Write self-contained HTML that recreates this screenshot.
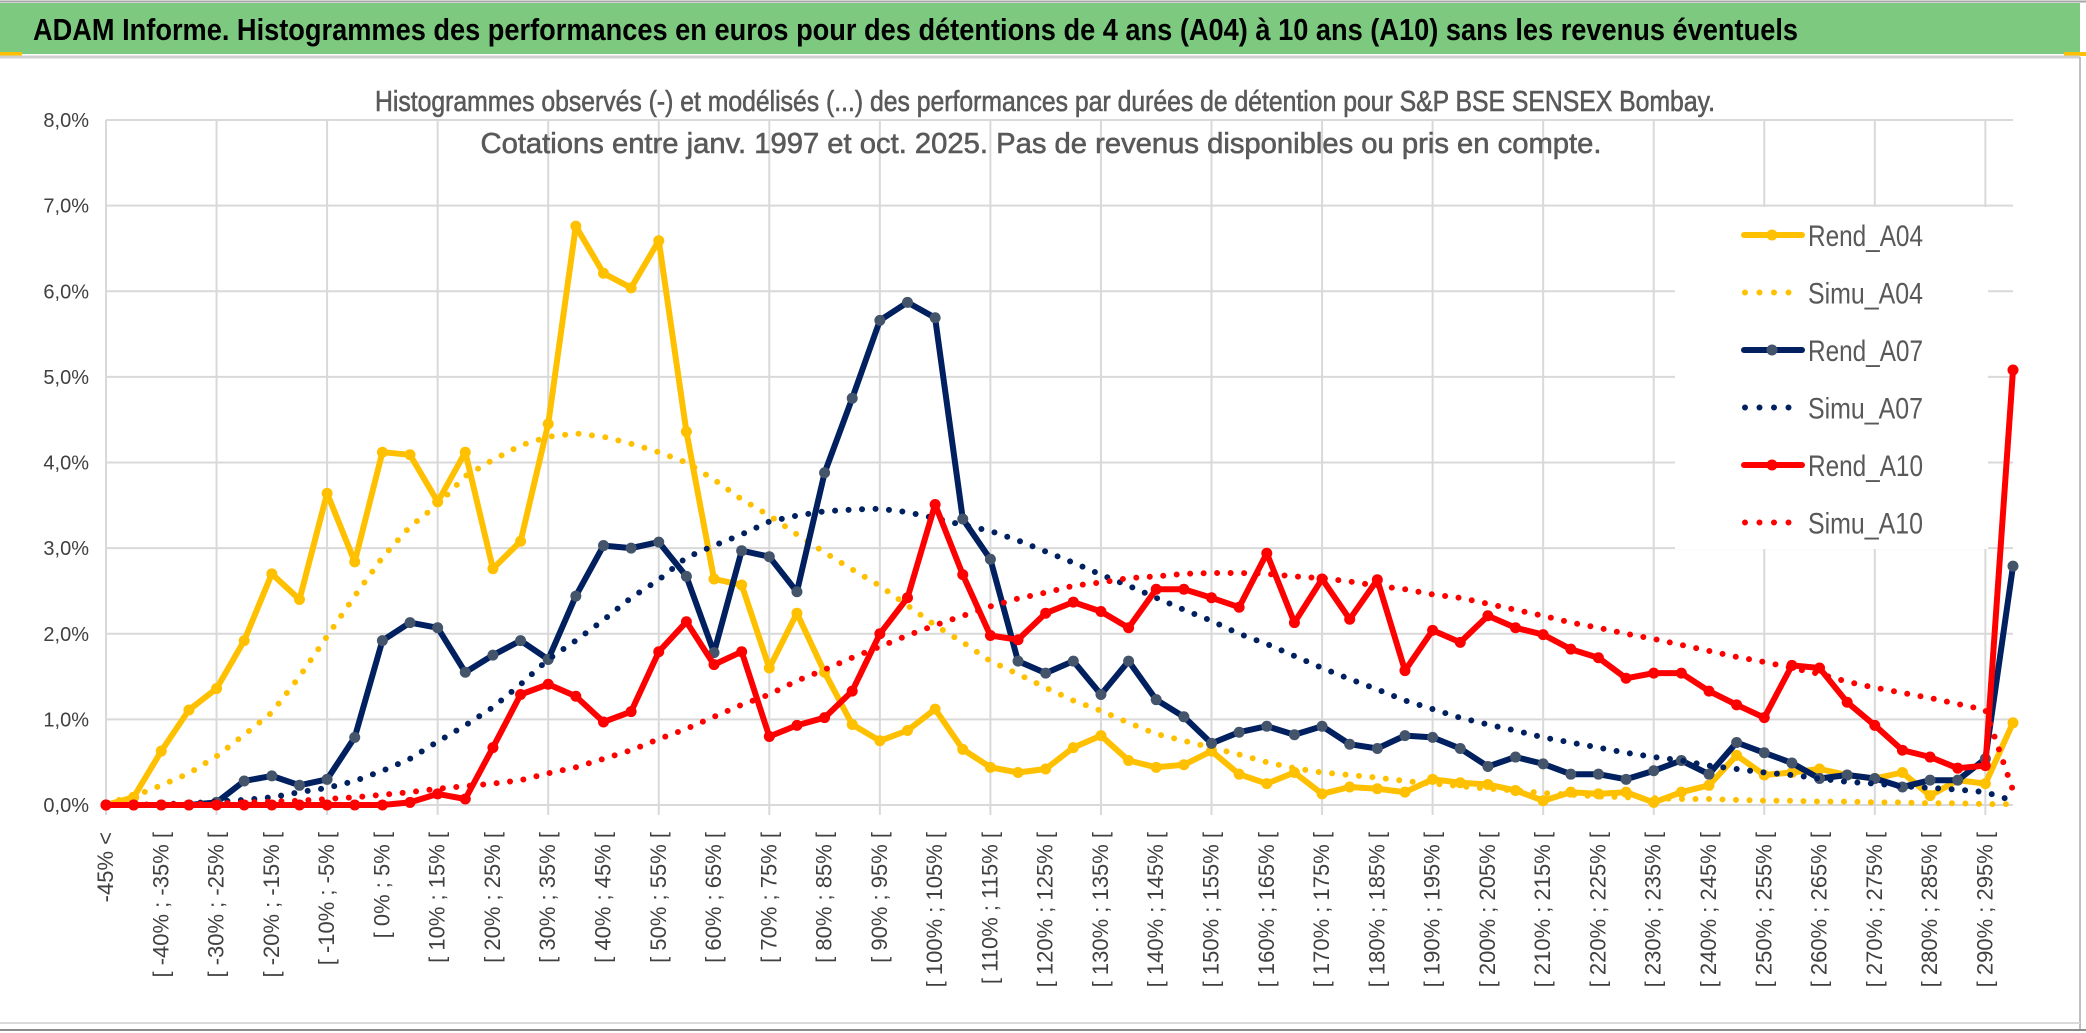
<!DOCTYPE html>
<html><head><meta charset="utf-8">
<style>
html,body{margin:0;padding:0;background:#fff;}
svg{display:block;font-family:"Liberation Sans Narrow","Liberation Sans",sans-serif;}
</style></head>
<body>
<svg id="chart" width="2086" height="1033" viewBox="0 0 2086 1033" xmlns="http://www.w3.org/2000/svg">
  <rect x="0" y="0" width="2086" height="1033" fill="#ffffff"/>
  <line x1="0" y1="1.5" x2="2086" y2="1.5" stroke="#a6a6a6" stroke-width="2"/>
  <rect x="0" y="3" width="2080" height="51" fill="#7dc97f"/>
  <rect x="0" y="52" width="22" height="4" fill="#ffc000"/>
  <rect x="2064" y="52" width="22" height="4" fill="#ffc000"/>
  <line x1="0" y1="57" x2="2080" y2="57" stroke="#d0d0d0" stroke-width="3"/>
  <text x="33" y="40" font-size="31" font-weight="bold" fill="#000" textLength="1765" lengthAdjust="spacingAndGlyphs">ADAM Informe. Histogrammes des performances en euros pour des détentions de 4 ans (A04) à 10 ans (A10) sans les revenus éventuels</text>
  <line x1="2080" y1="57" x2="2080" y2="1030" stroke="#bfbfbf" stroke-width="2"/>
  <line x1="0" y1="1023" x2="2080" y2="1023" stroke="#d9d9d9" stroke-width="2"/>
  <line x1="0" y1="1030" x2="2086" y2="1030" stroke="#8c8c8c" stroke-width="2"/>
  <g id="grid"></g>
  <g id="axes"></g>
  <g id="series"></g>
  <rect x="1675" y="207" width="313" height="342" fill="#ffffff"/>
  <g id="legend"></g>
  <text x="1045" y="111" font-size="29" fill="#595959" stroke="#595959" stroke-width="0.6" text-anchor="middle" textLength="1340" lengthAdjust="spacingAndGlyphs">Histogrammes observés (-) et modélisés (...) des performances par durées de détention pour S&amp;P BSE SENSEX Bombay.</text>
  <text x="1041" y="153" font-size="29" fill="#595959" stroke="#595959" stroke-width="0.6" text-anchor="middle" textLength="1121" lengthAdjust="spacingAndGlyphs">Cotations entre janv. 1997 et oct. 2025. Pas de revenus disponibles ou pris en compte.</text>
</svg>
<script>
var binStarts = [-45,-40,-35,-30,-25,-20,-15,-10,-5,0,5,10,15,20,25,30,35,40,45,50,55,60,65,70,75,80,85,90,95,100,105,110,115,120,125,130,135,140,145,150,155,160,165,170,175,180,185,190,195,200,205,210,215,220,225,230,235,240,245,250,255,260,265,270,275,280,285,290,295];
var firstCategory = "-45% <";
var yTicks = [0,1,2,3,4,5,6,7,8];
var yTickLabels = ["0,0%","1,0%","2,0%","3,0%","4,0%","5,0%","6,0%","7,0%","8,0%"];
var rendA04 = [0,0.09,0.63,1.11,1.36,1.92,2.70,2.40,3.64,2.84,4.12,4.09,3.54,4.12,2.76,3.08,4.45,6.76,6.21,6.04,6.59,4.36,2.64,2.57,1.60,2.24,1.55,0.94,0.75,0.87,1.12,0.65,0.44,0.38,0.42,0.67,0.81,0.52,0.44,0.47,0.63,0.36,0.25,0.38,0.13,0.21,0.19,0.15,0.30,0.26,0.24,0.17,0.05,0.15,0.13,0.15,0.03,0.15,0.23,0.58,0.35,0.38,0.42,0.35,0.31,0.38,0.11,0.29,0.25,0.96];
var simuA04 = [0.02,0.10,0.23,0.37,0.57,0.82,1.08,1.50,1.97,2.44,2.89,3.25,3.51,3.84,4.03,4.20,4.30,4.34,4.30,4.22,4.12,4.00,3.80,3.57,3.38,3.16,2.95,2.75,2.56,2.33,2.10,1.90,1.68,1.53,1.37,1.22,1.10,0.96,0.83,0.75,0.67,0.59,0.50,0.43,0.38,0.35,0.32,0.28,0.25,0.22,0.19,0.17,0.14,0.12,0.10,0.09,0.08,0.07,0.07,0.06,0.05,0.05,0.04,0.04,0.03,0.03,0.02,0.02,0.01,0.01];
var rendA07 = [0,0,0,0,0.03,0.28,0.34,0.23,0.30,0.79,1.92,2.13,2.07,1.55,1.75,1.92,1.70,2.44,3.03,3.00,3.07,2.67,1.78,2.97,2.90,2.49,3.88,4.75,5.66,5.87,5.69,3.34,2.87,1.68,1.54,1.68,1.29,1.68,1.23,1.03,0.72,0.85,0.92,0.82,0.92,0.71,0.66,0.81,0.79,0.66,0.45,0.56,0.48,0.36,0.36,0.30,0.40,0.52,0.36,0.73,0.61,0.49,0.31,0.35,0.31,0.21,0.29,0.29,0.54,2.79];
var simuA07 = [0,0,0.01,0.02,0.04,0.06,0.09,0.15,0.20,0.28,0.40,0.54,0.74,0.93,1.14,1.41,1.70,1.92,2.16,2.42,2.63,2.89,3.03,3.16,3.31,3.38,3.43,3.45,3.46,3.42,3.35,3.27,3.20,3.09,2.96,2.83,2.69,2.56,2.42,2.28,2.15,2.00,1.88,1.74,1.60,1.47,1.35,1.22,1.12,1.02,0.94,0.87,0.79,0.73,0.67,0.61,0.56,0.52,0.46,0.42,0.38,0.35,0.31,0.27,0.25,0.22,0.20,0.18,0.15,0.05];
var rendA10 = [0,0,0,0,0,0,0,0,0,0,0,0.03,0.13,0.07,0.67,1.29,1.41,1.27,0.97,1.09,1.79,2.14,1.64,1.79,0.80,0.93,1.02,1.33,2.00,2.42,3.51,2.69,1.98,1.93,2.24,2.37,2.26,2.07,2.52,2.52,2.42,2.31,2.94,2.13,2.64,2.17,2.63,1.57,2.04,1.90,2.21,2.07,1.99,1.82,1.72,1.48,1.54,1.54,1.33,1.17,1.02,1.63,1.60,1.20,0.93,0.64,0.56,0.43,0.46,5.08];
var simuA10 = [0,0,0.01,0.01,0.02,0.03,0.04,0.05,0.07,0.09,0.12,0.15,0.19,0.22,0.25,0.29,0.37,0.44,0.54,0.64,0.77,0.89,1.03,1.17,1.29,1.45,1.58,1.72,1.85,1.98,2.10,2.21,2.32,2.41,2.48,2.56,2.60,2.65,2.67,2.70,2.71,2.71,2.70,2.67,2.65,2.61,2.56,2.52,2.46,2.42,2.35,2.28,2.21,2.13,2.07,2.00,1.94,1.87,1.80,1.73,1.67,1.60,1.53,1.44,1.37,1.31,1.25,1.18,1.11,0.17];
var seriesNames = ["Rend_A04","Simu_A04","Rend_A07","Simu_A07","Rend_A10","Simu_A10"];

var NS = "http://www.w3.org/2000/svg";
var categories = [firstCategory];
for (var b = 0; b < binStarts.length; b++) {
  categories.push("[ " + binStarts[b] + "% ; " + (binStarts[b] + 5) + "% [");
}
var X0 = 106, X1 = 2013, Y0 = 805, Y8 = 120;
function xAt(i) { return X0 + (X1 - X0) * i / (categories.length - 1); }
function yAt(v) { return Y0 - (Y0 - Y8) * v / 8; }
function mk(tag, attrs, parent) {
  var e = document.createElementNS(NS, tag);
  for (var k in attrs) e.setAttribute(k, attrs[k]);
  parent.appendChild(e);
  return e;
}
var grid = document.getElementById("grid");
var axes = document.getElementById("axes");
for (var t = 0; t < yTicks.length; t++) {
  var gl = mk("line", {x1: X0, x2: X1, y1: yAt(yTicks[t]), y2: yAt(yTicks[t]), stroke: "#d9d9d9", "stroke-width": 2}, grid);
  
  
  var yl = mk("text", {x: 89, y: yAt(yTicks[t]) + 7, "font-size": 20, fill: "#404040", "text-anchor": "end"}, axes);
  yl.textContent = yTickLabels[t];
  
  
}
for (var i = 0; i < categories.length; i += 4) {
  var vl = mk("line", {x1: xAt(i), x2: xAt(i), y1: Y8, y2: Y0 + 10, stroke: "#d9d9d9", "stroke-width": 2}, grid);
  
  
}
for (var i2 = 0; i2 < categories.length; i2 += 2) {
  var xl = mk("text", {x: 0, y: 0, "font-size": 22, fill: "#404040", "text-anchor": "end",
    transform: "translate(" + (xAt(i2) + 7) + ",832) rotate(-90)"}, axes);
  xl.textContent = categories[i2];
  
  
}
var seriesData = [rendA04, simuA04, rendA07, simuA07, rendA10, simuA10];
var colors = ["#ffc000", "#ffc000", "#002060", "#002060", "#ff0000", "#ff0000"];
var markerFill = ["#ffc000", null, "#44546a", null, "#ff0000", null];
var sg = document.getElementById("series");
for (var s = 0; s < seriesData.length; s++) {
  var d = seriesData[s], pts = [];
  for (var j = 0; j < d.length; j++) pts.push(xAt(j).toFixed(1) + "," + yAt(d[j]).toFixed(1));
  var g = mk("g", {}, sg);
  
  
  var dotted = markerFill[s] === null;
  var pl = mk("polyline", {points: pts.join(" "), fill: "none", stroke: colors[s],
    "stroke-width": 6, "stroke-linejoin": "round", "stroke-linecap": "round",
    "stroke-dasharray": dotted ? "0 13.5" : "none"}, g);
  
  
  if (!dotted) {
    for (var j2 = 0; j2 < d.length; j2++) {
      var c = mk("circle", {cx: xAt(j2), cy: yAt(d[j2]), r: 5.5, fill: markerFill[s]}, g);
      
      
    }
  }
}
var lg = document.getElementById("legend");
for (var k = 0; k < seriesNames.length; k++) {
  var ly = 235 + 57.5 * k;
  var dottedL = markerFill[k] === null;
  var eg = mk("g", {}, lg);
  
  
  var ln = mk("line", {x1: dottedL ? 1745 : 1744, x2: dottedL ? 1800 : 1802, y1: ly, y2: ly, stroke: colors[k],
    "stroke-width": 6, "stroke-linecap": "round", "stroke-dasharray": dottedL ? "0 14.5" : "none"}, eg);
  
  
  if (!dottedL) {
    var lc = mk("circle", {cx: 1772, cy: ly, r: 5.5, fill: markerFill[k]}, eg);
    
    
  }
  var lt = mk("text", {x: 1808, y: ly + 11, "font-size": 30, fill: "#595959", textLength: 115, lengthAdjust: "spacingAndGlyphs"}, eg);
  lt.textContent = seriesNames[k];
  
  
}
</script>
</body></html>
